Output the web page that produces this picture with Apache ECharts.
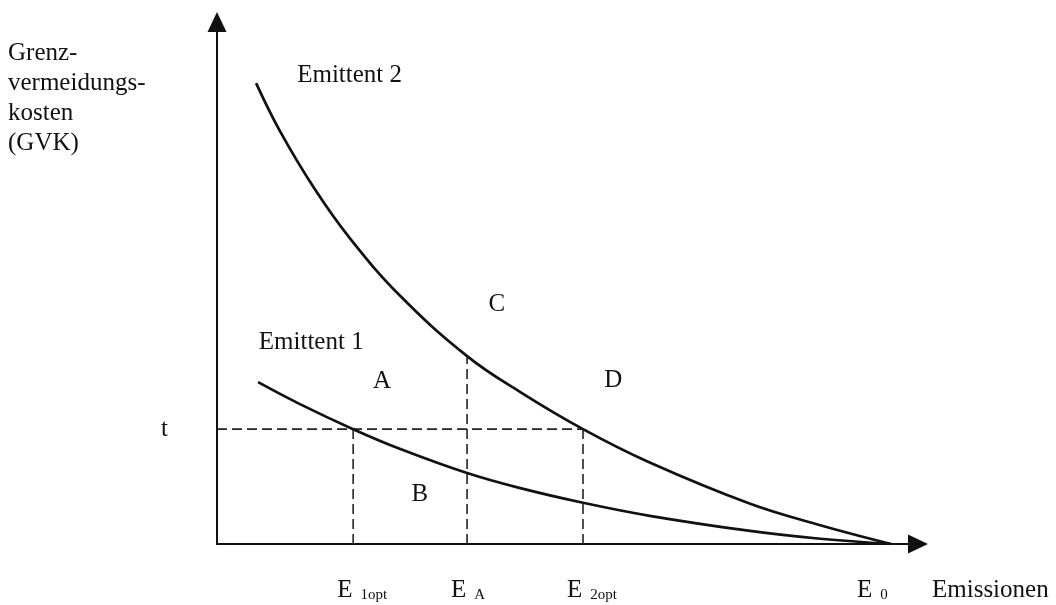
<!DOCTYPE html>
<html>
<head>
<meta charset="utf-8">
<title>Grenzvermeidungskosten</title>
<script src="https://cdn.jsdelivr.net/npm/echarts@6/dist/echarts.min.js"></script>
<style>
  html, body { margin: 0; padding: 0; background: #fff; }
  #chart { width: 1056px; height: 605px; }
</style>
</head>
<body>
<div id="chart"></div>
<script>
// Werte (Emissionen 0..100, GVK 0..100)
var emit2X = [5.8, 9.3, 14.5, 19.7, 27.2, 37.1, 45.0, 54.3, 64.2, 79.1, 89.5, 100];
var emit2Y = [88.3, 79.2, 68.0, 58.6, 47.5, 36.0, 29.1, 22.0, 15.6, 7.7, 3.6, 0];
var emit1X = [6.1, 12.3, 20.2, 27.2, 37.1, 45.0, 54.3, 64.2, 79.1, 89.5, 100];
var emit1Y = [31.0, 26.8, 22.0, 18.2, 13.6, 10.7, 7.9, 5.4, 2.5, 1.0, 0];

var tLevel = 22;
var tickValues = [20.2, 37.1, 54.3, 100];
var tickSubs = ['1opt', 'A', '2opt', '0'];
var eaTop = 36.0;

var areaNames = ['Emittent 2', 'Emittent 1', 'A', 'B', 'C', 'D'];
var areaX = [11.9, 6.2, 24.5, 30.1, 41.5, 58.8];
var areaY = [89.8, 38.7, 31.2, 9.4, 45.8, 31.4];

var FONT = '"Liberation Serif", "DejaVu Serif", serif';
var INK = '#111';

function pairs(xs, ys) {
    return xs.map(function (x, i) { return [x, ys[i]]; });
}

var chart = echarts.init(document.getElementById('chart'));

var series = [];

// die beiden GVK-Kurven
[pairs(emit2X, emit2Y), pairs(emit1X, emit1Y)].forEach(function (d, i) {
    series.push({
        name: 'Emittent ' + (2 - i),
        type: 'line',
        data: d,
        smooth: 0.4,
        symbol: 'none',
        lineStyle: { color: INK, width: 2.7 },
        silent: true,
        z: 3
    });
});

// gestrichelte Hilfslinien
var dashed = [
    [[0, tLevel], [tickValues[2], tLevel]],
    [[tickValues[0], 0], [tickValues[0], tLevel]],
    [[tickValues[1], 0], [tickValues[1], eaTop]],
    [[tickValues[2], 0], [tickValues[2], tLevel]]
];
dashed.forEach(function (d) {
    series.push({
        type: 'line',
        data: d,
        symbol: 'none',
        lineStyle: { color: '#222', width: 1.6, type: [10, 5] },
        silent: true,
        z: 2
    });
});

// Flaechenbeschriftungen
series.push({
    type: 'scatter',
    symbolSize: 0,
    silent: true,
    itemStyle: { opacity: 1 },
    data: areaNames.map(function (n, i) {
        var left = n.indexOf('Emittent') === 0;
        return {
            name: n,
            value: [areaX[i], areaY[i]],
            label: left ? { position: 'right', distance: 0 } : { position: 'inside' }
        };
    }),
    label: {
        show: true,
        formatter: '{b}',
        color: INK,
        fontSize: 25,
        fontFamily: FONT
    }
});

// E-Beschriftungen unter der Achse
series.push({
    type: 'scatter',
    symbolSize: 0,
    silent: true,
    itemStyle: { opacity: 1 },
    data: tickValues.map(function (v, i) {
        return {
            name: tickSubs[i],
            value: [v, 0],
            label: { position: [i === 3 ? -34 : -16, 33] }
        };
    }),
    label: {
        show: true,
        align: 'left',
        verticalAlign: 'top',
        formatter: function (p) { return '{e|E}{s|' + p.name + '}'; },
        rich: {
            e: { fontSize: 25, lineHeight: 26, color: INK, fontFamily: FONT },
            s: { fontSize: 15, lineHeight: 12, color: INK, fontFamily: FONT,
                 verticalAlign: 'bottom', padding: [0, 0, 0, 8] }
        }
    }
});

var option = {
    backgroundColor: '#fff',
    animation: false,
    grid: { left: 217, right: 138, top: 22, bottom: 61, outerBoundsMode: 'none' },
    xAxis: {
        type: 'value',
        min: 0,
        max: 104,
        axisLine: {
            show: true,
            symbol: ['none', 'triangle'],
            symbolSize: [19, 20],
            lineStyle: { color: INK, width: 2 }
        },
        axisTick: { show: false },
        axisLabel: { show: false },
        splitLine: { show: false }
    },
    yAxis: {
        type: 'value',
        min: 0,
        max: 100,
        axisLine: {
            show: true,
            symbol: ['none', 'triangle'],
            symbolSize: [19, 20],
            lineStyle: { color: INK, width: 2 }
        },
        axisTick: { show: false },
        axisLabel: {
            show: true,
            customValues: [tLevel],
            formatter: function () { return 't'; },
            margin: 49,
            color: INK,
            fontSize: 25,
            fontFamily: FONT
        },
        splitLine: { show: false }
    },
    graphic: [
        {
            type: 'text',
            left: 8,
            top: 38,
            style: {
                text: 'Grenz-\nvermeidungs-\nkosten\n(GVK)',
                font: '25px ' + FONT,
                lineHeight: 30,
                fill: INK
            }
        },
        {
            type: 'text',
            left: 932,
            top: 577,
            style: {
                text: 'Emissionen',
                font: '25px ' + FONT,
                lineHeight: 26,
                fill: INK
            }
        }
    ],
    series: series
};

chart.setOption(option);
window.addEventListener('resize', function () { chart.resize(); });
</script>
</body>
</html>
